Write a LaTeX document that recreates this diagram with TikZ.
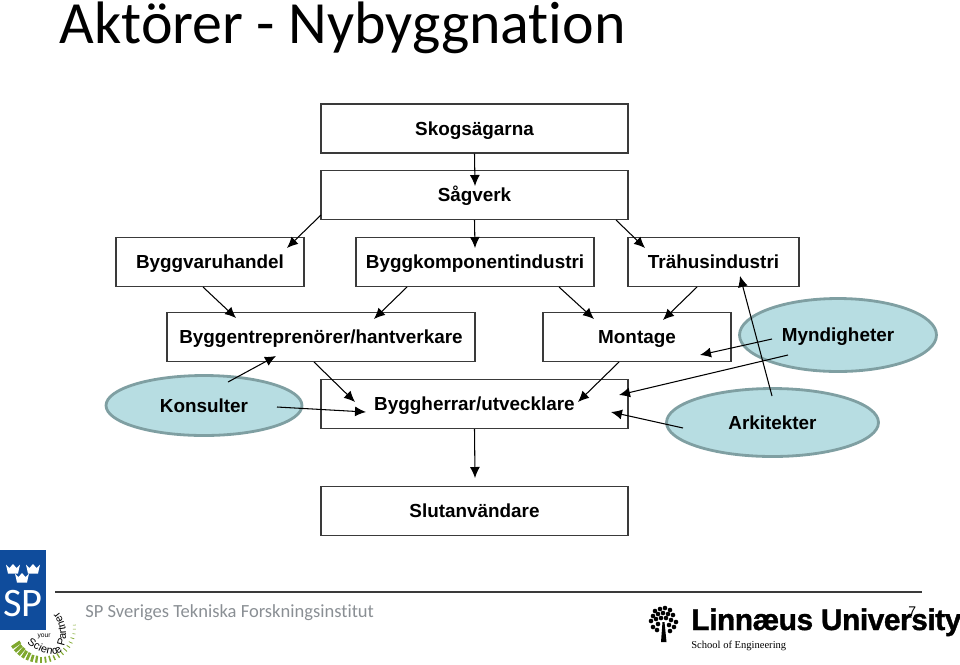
\documentclass[tikz,border=0pt]{standalone}
\usepackage{fontspec}
\setmainfont{Liberation Sans}
\newfontfamily\titlefont[Ligatures=NoCommon]{Carlito}
\newfontfamily\schoolfont{Liberation Serif}
\newfontfamily\lnufont[BoldFeatures={FakeBold=1.2,LetterSpace=-1.5}]{Liberation Sans}
\usetikzlibrary{arrows.meta,decorations.text,shapes.geometric}
\definecolor{boxline}{HTML}{3A3A3A}
\definecolor{ovalfill}{HTML}{B7DDE2}
\definecolor{ovalline}{HTML}{7F9FA2}
\definecolor{spblue}{HTML}{0F4C9C}
\definecolor{spgreen}{HTML}{7FA82E}
\definecolor{footgrey}{HTML}{8A8F94}

\begin{document}
\begin{tikzpicture}[
  x=0.02cm, y=-0.02cm,
  font=\fontsize{10.75}{12}\selectfont\bfseries,
  lbl/.style={text height=8.9pt, text depth=1.1pt, inner sep=0pt},
  blk/.style={lbl, draw=boxline, fill=white, line width=0.8pt, minimum height=0.98cm},
  oval/.style={lbl, ellipse, draw=ovalline, fill=ovalfill, line width=1.6pt},
  flow/.style={-{Latex[length=2.2mm,width=2.0mm]}, line width=0.6pt, draw=black},
  foot/.style={inner sep=0pt, anchor=base west},
]
\useasboundingbox (0,0) rectangle (960,664);

% ---------------- title ----------------
\node[foot, font=\titlefont\fontsize{34.1}{36}\selectfont] (title) at (59.5,43.5) {Aktörer - Nybyggnation};

% ---------------- chain boxes ----------------
\node[blk, minimum width=6.14cm] (skog) at (474.5,128.5) {Skogsägarna};
\node[blk, minimum width=6.14cm] (sag) at (474.5,195) {Sågverk};
\node[blk, minimum width=3.76cm] (varu) at (210,262) {Byggvaruhandel};
\node[blk, minimum width=4.76cm] (komp) at (475,262) {Byggkomponentindustri};
\node[blk, minimum width=3.42cm] (tra) at (713.5,262) {Trähusindustri};
\node[blk, minimum width=6.16cm] (entr) at (321,337) {Byggentreprenörer/hantverkare};
\node[blk, minimum width=3.76cm] (mont) at (637,337) {Montage};
\node[blk, minimum width=6.14cm] (herr) at (474.5,404) {Byggherrar/utvecklare};
\node[blk, minimum width=6.14cm] (slut) at (474.5,511) {Slutanvändare};

% ---------------- actors ----------------
\node[oval, minimum width=3.92cm, minimum height=1.2cm] (kons) at (204,405.5) {Konsulter};
\node[oval, minimum width=3.94cm, minimum height=1.46cm] (mynd) at (838,335) {Myndigheter};
\node[oval, minimum width=4.24cm, minimum height=1.36cm] (arki) at (772.5,422.5) {Arkitekter};

% ---------------- connector ends ----------------
\coordinate (skogEnd) at (475,186);
\coordinate (sagL) at (321,215);
\coordinate (varuEnd) at (287,248);
\coordinate (kompEnd) at (475,248);
\coordinate (sagR) at (616,220);
\coordinate (traEnd) at (645,248);
\coordinate (varuS) at (203,287);
\coordinate (entrA) at (236,318);
\coordinate (kompL) at (407,287);
\coordinate (entrB) at (374,319);
\coordinate (kompR) at (559,287);
\coordinate (montA) at (594,319);
\coordinate (traS) at (697,287);
\coordinate (montB) at (663,320);
\coordinate (montS) at (619,362);
\coordinate (herrA) at (578,402);
\coordinate (entrS) at (314,362);
\coordinate (herrB) at (355,402);
\coordinate (konsA) at (228,382);
\coordinate (entrC) at (276,356);
\coordinate (konsB) at (277,407);
\coordinate (herrC) at (366,412);
\coordinate (myndA) at (772,339);
\coordinate (montC) at (700,355);
\coordinate (myndB) at (788,355);
\coordinate (herrD) at (619,395);
\coordinate (arkiA) at (683,428);
\coordinate (herrE) at (611,412);
\coordinate (arkiB) at (772,396);
\coordinate (traB) at (740,276);
\coordinate (slutEnd) at (475,478);

% connectors
\draw[flow] (skog.south) -- (skogEnd);
\draw[flow] (sag.south) -- (kompEnd);
\draw[flow] (herr.south) -- (slutEnd);
\foreach \a/\b in {sagL/varuEnd, sagR/traEnd, varuS/entrA, kompL/entrB, kompR/montA,
    traS/montB, montS/herrA, entrS/herrB, konsA/entrC, konsB/herrC, myndA/montC,
    myndB/herrD, arkiA/herrE, arkiB/traB} {
  \draw[flow] (\a) -- (\b);
}

% ---------------- footer ----------------
\draw[line width=0.7pt, draw=boxline] (55,592) -- (922,592);
\node[foot, font=\titlefont\fontsize{10.55}{12}\selectfont, text=footgrey] (sptxt) at (85,617) {SP Sveriges Tekniska Forskningsinstitut};

% SP logo
\fill[spblue] (0,550) rectangle (46,630);
\node[inner sep=0pt, text=white, font=\titlefont\fontsize{23}{24}\selectfont] (sp) at (23,604) {SP};
\foreach \cx/\cy in {13/569, 33/569, 22/578} {
  \fill[white] (\cx-7,\cy-4.5) -- (\cx-3.5,\cy-1) -- (\cx,\cy-5) -- (\cx+3.5,\cy-1) -- (\cx+7,\cy-4.5)
    -- (\cx+5,\cy+4.5) -- (\cx-5,\cy+4.5) -- cycle;
}
% green dashes
\foreach \ang/\wd/\len in {146/1.9/10,138/1.9/9,130/1.9/9,122/1.8/8,114/1.6/8,106/1.5/7,98/1.3/7,90/1.1/6,82/1.0/6,
    74/0.9/6,66/0.8/5,58/0.7/5,50/0.6/5,42/0.5/5,34/0.5/4,26/0.4/4,18/0.4/4,10/0.3/3,2/0.3/3,-5/0.3/3} {
  \draw[spgreen, line width=\wd pt] (41,628) ++(\ang:35) -- ++(\ang:-\len);
}
\node[inner sep=0pt, font=\fontsize{3.8}{4}\selectfont\mdseries] (your) at (44,636) {your};
\path[decorate, decoration={text along path, text align=fit to path,
    text={|\fontsize{6.2}{7}\selectfont\mdseries|Science Partner}}]
  (27,643) .. controls (38,652) and (50,656) .. (57,654) .. controls (68,650) and (70,625) .. (58,612);

% Linnaeus logo
\fill[black] (661,642) -- (662.5,622) -- (664.5,622) -- (666.5,642) -- cycle;
\foreach \tx/\ty in {655/611,660/609,665/608,670/610,653/616,658/614,663/613,668/614,673/615,
    651/621,656/619,661/618,666/618,671/620,676/622,653/627,658/624,669/625,674/627,657/630,670/631} {
  \fill[black] (\tx,\ty) circle[radius=2.3];
}
\node[foot, font=\lnufont\fontsize{17}{18}\selectfont\bfseries] (lnu) at (691,630) {Linnæus University};
\node[foot, font=\schoolfont\fontsize{6}{8}\selectfont\mdseries] (school) at (691,648) {School of Engineering};
\node[foot, font=\fontsize{8}{9}\selectfont\mdseries] (page) at (908,616) {7};

\end{tikzpicture}
\end{document}
